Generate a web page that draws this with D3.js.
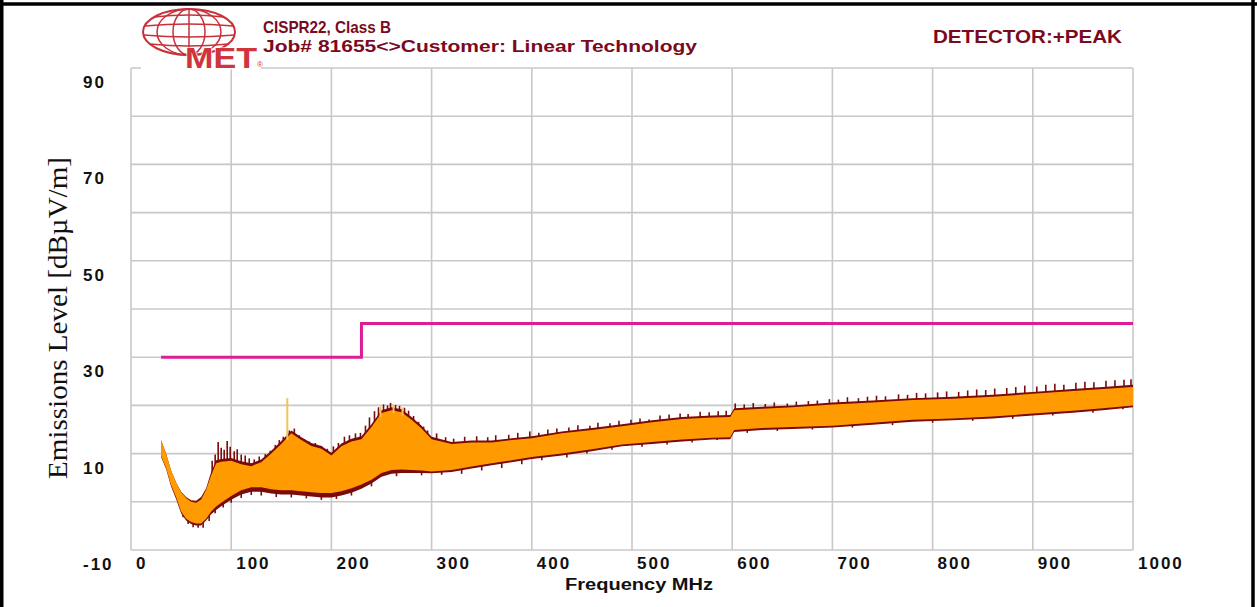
<!DOCTYPE html>
<html>
<head>
<meta charset="utf-8">
<script src="https://cdn.jsdelivr.net/npm/d3@7"></script>
<style>
  html, body { margin: 0; padding: 0; background: #fff; }
  svg { display: block; }
</style>
</head>
<body>
<svg id="chart" width="1257" height="607"></svg>
<script>
// ---------------- DATA ----------------
const titleLines = ["CISPR22, Class B", "Job# 81655<>Customer: Linear Technology"];
const detectorLabel = "DETECTOR:+PEAK";
const xAxisTitle = "Frequency MHz";
const yAxisTitle = "Emissions Level [dB\u00B5V/m]";

const xTicks = [0, 100, 200, 300, 400, 500, 600, 700, 800, 900, 1000];
const yGrid = [-10, 0, 10, 20, 30, 40, 50, 60, 70, 80, 90];
const yTickLabels = [90, 70, 50, 30, 10, -10];

// CISPR22 Class B limit (MHz, dBuV/m)
const limitFreq  = [30, 230, 230, 1000];
const limitLevel = [30, 30, 37, 37];

const freqMHz = [30,35,40,45,50,55,60,65,70,75,80,85,90,100,110,120,130,140,150,160,170,180,190,200,210,220,230,240,250,260,270,280,290,300,320,340,360,380,400,430,460,490,520,550,580,598,602,630,660,700,740,780,820,860,900,940,970,1000];
const orangeHigh = [12.8,10.0,6.5,4.0,2.0,0.8,0.0,-0.2,0.5,2.5,5.5,8.0,8.3,8.5,7.8,7.4,8.2,10.0,12.0,14.2,12.8,11.6,11.0,9.6,11.5,12.5,13.0,15.5,18.4,19.0,18.6,17.0,15.2,13.0,12.0,12.3,12.3,12.8,13.2,14.2,14.9,15.7,16.5,17.2,17.5,17.6,19.0,19.3,19.6,20.2,20.6,21.1,21.4,21.8,22.4,23.0,23.4,23.8];
const orangeLow  = [9.5,7.0,3.5,1.0,-2.0,-3.5,-4.2,-4.5,-4.5,-3.5,-2.0,-1.0,-0.2,1.2,2.4,3.0,3.0,2.6,2.4,2.4,2.2,2.0,1.8,1.8,2.2,2.8,3.6,4.6,6.0,6.6,6.7,6.6,6.5,6.3,6.6,7.3,8.0,8.6,9.3,10.0,10.9,11.9,12.4,12.9,13.3,13.4,14.9,15.3,15.5,15.8,16.4,17.0,17.3,17.7,18.3,18.9,19.4,20.0];
const redHigh    = [12.8,10.0,6.5,4.0,2.1,1.0,0.3,0.2,1.0,2.8,6.2,8.6,8.9,9.1,8.4,8.0,8.8,10.6,12.6,14.8,13.4,12.2,11.6,10.2,12.1,13.1,13.6,16.1,19.0,19.6,19.2,17.6,15.8,13.5,12.4,12.7,12.7,13.2,13.6,14.6,15.3,16.1,16.9,17.6,17.9,18.0,19.4,19.7,20.0,20.6,21.0,21.5,21.8,22.2,22.8,23.4,23.8,24.3];
const redLow     = [9.3,6.8,3.2,0.6,-2.4,-3.9,-4.6,-4.9,-4.9,-3.9,-2.6,-1.7,-0.9,0.4,1.5,2.1,2.1,1.7,1.5,1.5,1.3,1.1,0.9,0.9,1.3,1.9,2.7,3.8,5.2,5.8,6.0,6.0,6.0,5.9,6.2,6.9,7.6,8.2,8.9,9.6,10.5,11.5,12.0,12.5,12.9,13.0,14.5,14.9,15.1,15.4,16.0,16.6,16.9,17.3,17.9,18.5,19.0,19.6];

// Individual peaks of the dark-red trace
const redPeakFreq = [81,84,87,90,93,96,99,103,106,110,114,118,123,128,134,139,144,148,152,158,163,168,173,178,184,190,196,202,207,213,218,224,229,234,238,243,247,252,256,259,264,268,273,277,282,287,292,296,
  305,314,322,333,345,356,364,377,386,398,407,416,425,437,446,458,466,478,487,499,508,517,528,537,548,556,568,577,586,594,
  603,612,621,633,642,655,664,676,685,697,706,715,726,735,744,753,766,775,784,793,805,814,826,835,844,853,862,874,883,892,904,913,922,931,943,952,961,973,982,991,998];
const redPeakTop  = [8.5,9.8,12.4,11.2,10.8,12.6,11.4,10.5,10.9,9.8,9.6,9.0,8.8,9.4,9.9,10.6,11.8,12.8,13.5,14.8,15.2,13.8,13.0,12.5,12.2,11.6,11.0,11.5,12.2,13.5,13.8,14.2,14.3,15.8,17.5,18.8,19.6,20.2,20.0,20.5,20.1,19.9,19.5,18.9,17.8,16.6,15.6,14.8,
  14.2,13.4,13.1,13.5,13.6,13.4,13.8,13.9,14.3,14.6,14.3,15.0,15.2,15.4,15.9,15.8,16.4,16.3,16.8,17.0,17.3,17.1,17.9,18.1,18.3,18.2,18.7,18.6,18.8,18.9,
  20.4,20.2,20.5,20.3,20.6,20.4,20.8,20.9,21.0,21.3,21.2,21.7,21.5,21.8,22.0,21.9,22.3,22.2,22.6,22.5,22.7,22.9,22.8,23.1,23.3,23.2,23.5,23.6,23.8,24.1,23.9,24.3,24.5,24.3,24.7,24.9,24.8,25.1,25.2,25.3,25.4];
// Dips of the dark-red trace
const redDipFreq   = [52,57,62,67,72,78,84,92,100,110,120,130,145,160,175,190,205,220,240,265,290,310,330,350,370,390,410,435,455,480,510,535,560,585,615,645,680,720,760,800,840,880,920,960,990];
const redDipBottom = [-3.2,-4.6,-5.3,-5.4,-5.4,-4.0,-2.4,-1.2,-0.2,0.8,1.4,1.3,1.0,0.9,0.7,0.4,0.6,1.3,3.2,5.3,5.5,5.6,5.8,6.5,7.0,7.8,8.6,9.2,10.0,10.8,11.4,11.9,12.3,12.8,14.3,14.7,15.0,15.4,15.9,16.4,16.8,17.2,17.9,18.5,19.2];
// Light amber peaks
const amberPeakFreq = [156, 249, 262, 271];
const amberPeakTop  = [21.5, 19.8, 20.2, 19.6];

// ---------------- CHART ----------------
const svg = d3.select("#chart");
const W = 1257, H = 607;
svg.append("rect").attr("width", W).attr("height", H).attr("fill", "#fff");

const x = d3.scaleLinear().domain([0, 1000]).range([131, 1133]);
const y = d3.scaleLinear().domain([-10, 90]).range([550, 68]);

const gridColor = "#c8c8c8";
const g = svg.append("g");

// grid
g.selectAll("line.vg").data(xTicks).join("line")
  .attr("x1", d => x(d)).attr("x2", d => x(d))
  .attr("y1", y(-10)).attr("y2", y(90))
  .attr("stroke", gridColor).attr("stroke-width", 1.6);
g.selectAll("line.hg").data(yGrid).join("line")
  .attr("x1", x(0)).attr("x2", x(1000))
  .attr("y1", d => y(d)).attr("y2", d => y(d))
  .attr("stroke", gridColor).attr("stroke-width", 1.6);

// limit line
const limitData = limitFreq.map((f, i) => [f, limitLevel[i]]);
g.append("path")
  .attr("d", d3.line().x(d => x(d[0])).y(d => y(d[1]))(limitData))
  .attr("fill", "none").attr("stroke", "#DC1E96").attr("stroke-width", 3);

// helper: level of an envelope at a frequency (for drawing peak stems)
const levelAt = (arr, f) => {
  const i = d3.bisectLeft(freqMHz, f);
  if (i <= 0) return arr[0];
  if (i >= freqMHz.length) return arr[arr.length - 1];
  const f0 = freqMHz[i - 1], f1 = freqMHz[i];
  const t = (f - f0) / (f1 - f0);
  return arr[i - 1] + t * (arr[i] - arr[i - 1]);
};

const red = "#7B0A0A", orange = "#FF9A00", amber = "#F7C15A";

const bandRed = freqMHz.map((f, i) => ({ f, lo: redLow[i], hi: redHigh[i] }));
const bandOrange = freqMHz.map((f, i) => ({ f, lo: orangeLow[i], hi: orangeHigh[i] }));
const area = d3.area().x(d => x(d.f)).y0(d => y(d.lo)).y1(d => y(d.hi));

g.append("path").attr("d", area(bandRed)).attr("fill", red);

// red peaks and dips
g.selectAll("line.rp").data(redPeakFreq.map((f, i) => [f, redPeakTop[i]])).join("line")
  .attr("x1", d => x(d[0])).attr("x2", d => x(d[0]))
  .attr("y1", d => y(d[1])).attr("y2", d => y(levelAt(orangeHigh, d[0]) - 1))
  .attr("stroke", red).attr("stroke-width", 1.6);
g.selectAll("line.rd").data(redDipFreq.map((f, i) => [f, redDipBottom[i]])).join("line")
  .attr("x1", d => x(d[0])).attr("x2", d => x(d[0]))
  .attr("y1", d => y(d[1])).attr("y2", d => y(levelAt(orangeLow, d[0]) + 1))
  .attr("stroke", red).attr("stroke-width", 1.6);

g.append("path").attr("d", area(bandOrange)).attr("fill", orange);

g.selectAll("line.ap").data(amberPeakFreq.map((f, i) => [f, amberPeakTop[i]])).join("line")
  .attr("x1", d => x(d[0])).attr("x2", d => x(d[0]))
  .attr("y1", d => y(d[1])).attr("y2", d => y(levelAt(orangeHigh, d[0]) - 0.5))
  .attr("stroke", amber).attr("stroke-width", 2);

// tick labels
const tickFont = "'Liberation Sans', Arial, sans-serif";
svg.selectAll("text.xt").data(xTicks).join("text")
  .attr("x", d => x(d) + 5).attr("y", 569)
  .attr("font-family", tickFont).attr("font-weight", "bold").attr("font-size", 17)
  .attr("letter-spacing", 2).attr("fill", "#111")
  .text(d => d);
svg.selectAll("text.yt").data(yTickLabels).join("text")
  .attr("x", 83).attr("y", d => y(d) + 20)
  .attr("font-family", tickFont).attr("font-weight", "bold").attr("font-size", 17)
  .attr("letter-spacing", 2).attr("fill", "#111")
  .text(d => d);

// axis titles
svg.append("text")
  .attr("x", 639).attr("y", 590).attr("text-anchor", "middle")
  .attr("font-family", tickFont).attr("font-weight", "bold").attr("font-size", 16)
  .attr("textLength", 148).attr("lengthAdjust", "spacingAndGlyphs")
  .attr("fill", "#111").text(xAxisTitle);
svg.append("text")
  .attr("transform", "translate(67,318) rotate(-90)")
  .attr("text-anchor", "middle")
  .attr("font-family", "'Liberation Serif', 'Times New Roman', serif").attr("font-size", 28)
  .attr("textLength", 322).attr("lengthAdjust", "spacingAndGlyphs")
  .attr("fill", "#111").text(yAxisTitle);

// logo
const logo = svg.append("g");
logo.append("rect").attr("x", 141).attr("y", 6).attr("width", 120).attr("height", 63.5).attr("fill", "#fff");
const lc = "#C8303A", cx = 189, cy = 32, rx = 46, ry = 23;
logo.append("ellipse").attr("cx", cx).attr("cy", cy).attr("rx", rx).attr("ry", ry)
  .attr("fill", "none").attr("stroke", lc).attr("stroke-width", 2);
[32, 16].forEach(r => logo.append("ellipse").attr("cx", cx).attr("cy", cy).attr("rx", r).attr("ry", ry)
  .attr("fill", "none").attr("stroke", lc).attr("stroke-width", 1.5));
logo.append("line").attr("x1", cx).attr("x2", cx).attr("y1", cy - ry).attr("y2", cy + ry)
  .attr("stroke", lc).attr("stroke-width", 1.5);
[-15, -6, 3, 12].forEach(dy => {
  const hw = rx * Math.sqrt(1 - (dy / ry) ** 2);
  logo.append("path")
    .attr("d", `M${cx - hw},${cy + dy} Q${cx},${cy + dy + (dy > 0 ? 4 : -4)} ${cx + hw},${cy + dy}`)
    .attr("fill", "none").attr("stroke", lc).attr("stroke-width", 1.5);
});
logo.append("text").attr("x", 185).attr("y", 68)
  .attr("font-family", tickFont).attr("font-weight", "bold").attr("font-size", 30)
  .attr("textLength", 72).attr("lengthAdjust", "spacingAndGlyphs")
  .attr("fill", "#D0343C").attr("stroke", "#fff").attr("stroke-width", 1.2)
  .attr("paint-order", "stroke").text("MET");
logo.append("text").attr("x", 257).attr("y", 67)
  .attr("font-family", tickFont).attr("font-size", 8).attr("fill", "#D0343C").text("\u00AE");

// header texts
const titleColor = "#7A0A1E";
svg.append("text").attr("x", 263).attr("y", 33)
  .attr("font-family", tickFont).attr("font-weight", "bold").attr("font-size", 17)
  .attr("textLength", 128).attr("lengthAdjust", "spacingAndGlyphs")
  .attr("fill", titleColor).text(titleLines[0]);
svg.append("text").attr("x", 263).attr("y", 52)
  .attr("font-family", tickFont).attr("font-weight", "bold").attr("font-size", 17)
  .attr("textLength", 434).attr("lengthAdjust", "spacingAndGlyphs")
  .attr("fill", titleColor).text(titleLines[1]);
svg.append("text").attr("x", 933).attr("y", 43)
  .attr("font-family", tickFont).attr("font-weight", "bold").attr("font-size", 18)
  .attr("textLength", 189).attr("lengthAdjust", "spacingAndGlyphs")
  .attr("fill", titleColor).text(detectorLabel);

// outer border
const border = svg.append("g").attr("stroke", "#000").attr("stroke-width", 3.5);
border.append("line").attr("x1", 0).attr("x2", W).attr("y1", 4).attr("y2", 4);
border.append("line").attr("x1", 1.75).attr("x2", 1.75).attr("y1", 0).attr("y2", H);
border.append("line").attr("x1", 1253).attr("x2", 1253).attr("y1", 0).attr("y2", H);
</script>
</body>
</html>
